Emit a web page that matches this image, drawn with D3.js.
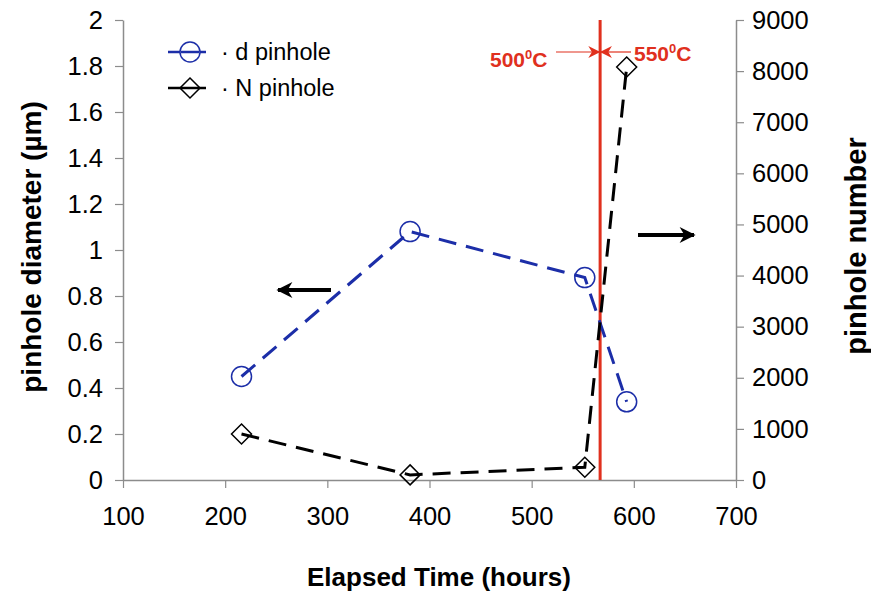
<!DOCTYPE html>
<html>
<head>
<meta charset="utf-8">
<script src="https://cdn.jsdelivr.net/npm/d3@7"></script>
<style>
  html, body { margin: 0; padding: 0; background: #fff; }
  text { font-family: "Liberation Sans", Arial, sans-serif; }
</style>
</head>
<body>
<svg id="chart" width="871" height="592"></svg>
<script>
// Elapsed time (hours) of each measurement
const hours = [216, 381, 552, 593];
// Mean pinhole diameter (µm), left axis
const diameter = [0.45, 1.08, 0.88, 0.34];
// Pinhole count, right axis
const count = [900, 100, 250, 8080];
// Time at which the temperature was raised from 500 to 550 °C
const switchHour = 567;

const xTicks = [100, 200, 300, 400, 500, 600, 700];
const yLeftTicks = [0, 0.2, 0.4, 0.6, 0.8, 1, 1.2, 1.4, 1.6, 1.8, 2];
const yRightTicks = [0, 1000, 2000, 3000, 4000, 5000, 6000, 7000, 8000, 9000];

const svg = d3.select("#chart");
const m = { left: 123, right: 736, top: 20, bottom: 480 };

const x = d3.scaleLinear().domain([100, 700]).range([m.left, m.right]);
const yL = d3.scaleLinear().domain([0, 2]).range([m.bottom, m.top]);
const yR = d3.scaleLinear().domain([0, 9000]).range([m.bottom, m.top]);

const axisColor = "#8c8c8c";
const blue = "#1c2ea8";
const red = "#e0301e";
const tickFont = 25.5;

// Arrowhead markers
const defs = svg.append("defs");
function arrowMarker(id, color, w, h) {
  defs.append("marker")
    .attr("id", id)
    .attr("viewBox", "0 0 10 10")
    .attr("refX", 9).attr("refY", 5)
    .attr("markerWidth", w).attr("markerHeight", h)
    .attr("markerUnits", "userSpaceOnUse")
    .attr("orient", "auto")
    .append("path").attr("d", "M0,0 L10,5 L0,10 L3,5 Z").attr("fill", color);
}
arrowMarker("arrowBlack", "#000", 18, 16);
arrowMarker("arrowRed", red, 14, 12);

// Axes
const styleAxis = g => {
  g.selectAll(".domain").attr("stroke", axisColor).attr("stroke-width", 1.5);
  g.selectAll(".tick line").attr("stroke", axisColor).attr("stroke-width", 1.2);
  g.selectAll(".tick text").attr("font-size", tickFont).attr("fill", "#000")
    .style("font-family", "'Liberation Sans', Arial, sans-serif");
};

svg.append("g").attr("transform", `translate(0,${m.bottom})`)
  .call(d3.axisBottom(x).tickValues(xTicks).tickSize(8).tickSizeOuter(0).tickPadding(19).tickFormat(d3.format("d")))
  .call(styleAxis);

svg.append("g").attr("transform", `translate(${m.left},0)`)
  .call(d3.axisLeft(yL).tickValues(yLeftTicks).tickSize(8).tickSizeOuter(0).tickPadding(12)
    .tickFormat(d => d3.format("~g")(d)))
  .call(styleAxis);

svg.append("g").attr("transform", `translate(${m.right},0)`)
  .call(d3.axisRight(yR).tickValues(yRightTicks).tickSize(8).tickSizeOuter(0).tickPadding(8).tickFormat(d3.format("d")))
  .call(styleAxis);

// Temperature switch line
svg.append("line")
  .attr("x1", x(switchHour)).attr("x2", x(switchHour))
  .attr("y1", m.top).attr("y2", m.bottom)
  .attr("stroke", red).attr("stroke-width", 3);

// Series lines
const idx = d3.range(hours.length);
const lineD = d3.line().x(i => x(hours[i])).y(i => yL(diameter[i]));
const lineN = d3.line().x(i => x(hours[i])).y(i => yR(count[i]));

svg.append("path").attr("d", lineD(idx))
  .attr("fill", "none").attr("stroke", blue).attr("stroke-width", 3)
  .attr("stroke-dasharray", "18,10");
svg.append("path").attr("d", lineN(idx))
  .attr("fill", "none").attr("stroke", "#000").attr("stroke-width", 3)
  .attr("stroke-dasharray", "18,10");

// Markers
svg.selectAll("circle.d").data(idx).join("circle")
  .attr("class", "d")
  .attr("cx", i => x(hours[i])).attr("cy", i => yL(diameter[i]))
  .attr("r", 10).attr("fill", "none").attr("stroke", blue).attr("stroke-width", 1.5);

const diamond = (cx, cy, r) => `M${cx},${cy - r} L${cx + r},${cy} L${cx},${cy + r} L${cx - r},${cy} Z`;
svg.selectAll("path.n").data(idx).join("path")
  .attr("class", "n")
  .attr("d", i => diamond(x(hours[i]), yR(count[i]), 10))
  .attr("fill", "none").attr("stroke", "#000").attr("stroke-width", 1.5);

// Legend
const lg = svg.append("g");
lg.append("line").attr("x1", 168).attr("x2", 206).attr("y1", 52).attr("y2", 52)
  .attr("stroke", blue).attr("stroke-width", 2.5);
lg.append("circle").attr("cx", 190).attr("cy", 52).attr("r", 10)
  .attr("fill", "#fff").attr("stroke", blue).attr("stroke-width", 1.5);
lg.append("line").attr("x1", 181).attr("x2", 199).attr("y1", 52).attr("y2", 52)
  .attr("stroke", blue).attr("stroke-width", 2.5);
lg.append("text").attr("x", 221).attr("y", 60).attr("font-size", 23.5).text("· d pinhole");

lg.append("line").attr("x1", 168).attr("x2", 206).attr("y1", 88).attr("y2", 88)
  .attr("stroke", "#000").attr("stroke-width", 2.5);
lg.append("path").attr("d", diamond(190, 88, 10))
  .attr("fill", "#fff").attr("stroke", "#000").attr("stroke-width", 1.5);
lg.append("line").attr("x1", 181).attr("x2", 199).attr("y1", 88).attr("y2", 88)
  .attr("stroke", "#000").attr("stroke-width", 2.5);
lg.append("text").attr("x", 221).attr("y", 96).attr("font-size", 23.5).text("· N pinhole");

// Direction arrows pointing at each series' axis
svg.append("line").attr("x1", 331).attr("x2", 278).attr("y1", 290).attr("y2", 290)
  .attr("stroke", "#000").attr("stroke-width", 4).attr("marker-end", "url(#arrowBlack)");
svg.append("line").attr("x1", 638).attr("x2", 694).attr("y1", 235).attr("y2", 235)
  .attr("stroke", "#000").attr("stroke-width", 4).attr("marker-end", "url(#arrowBlack)");

// Temperature annotations
const xs = x(switchHour);
svg.append("line").attr("x1", 556).attr("x2", xs - 1).attr("y1", 52).attr("y2", 52)
  .attr("stroke", red).attr("stroke-width", 1.2).attr("marker-end", "url(#arrowRed)");
svg.append("line").attr("x1", 631).attr("x2", xs + 1).attr("y1", 52).attr("y2", 52)
  .attr("stroke", red).attr("stroke-width", 1.2).attr("marker-end", "url(#arrowRed)");

function tempLabel(xPos, y, deg) {
  const t = svg.append("text").attr("x", xPos).attr("y", y)
    .attr("font-size", 21).attr("font-weight", "bold").attr("fill", red);
  t.append("tspan").text(deg);
  t.append("tspan").attr("dy", -8).attr("font-size", 13).text("0");
  t.append("tspan").attr("dy", 8).text("C");
}
tempLabel(490, 67, "500");
tempLabel(634, 61, "550");

// Axis titles
svg.append("text").attr("x", 439).attr("y", 586).attr("text-anchor", "middle")
  .attr("font-size", 26).attr("font-weight", "bold").text("Elapsed Time (hours)");
svg.append("text").attr("transform", "translate(41,247) rotate(-90)").attr("text-anchor", "middle")
  .attr("font-size", 28).attr("font-weight", "bold").text("pinhole diameter (µm)");
svg.append("text").attr("transform", "translate(866,246) rotate(-90)").attr("text-anchor", "middle")
  .attr("font-size", 29).attr("font-weight", "bold").text("pinhole number");
</script>
</body>
</html>
